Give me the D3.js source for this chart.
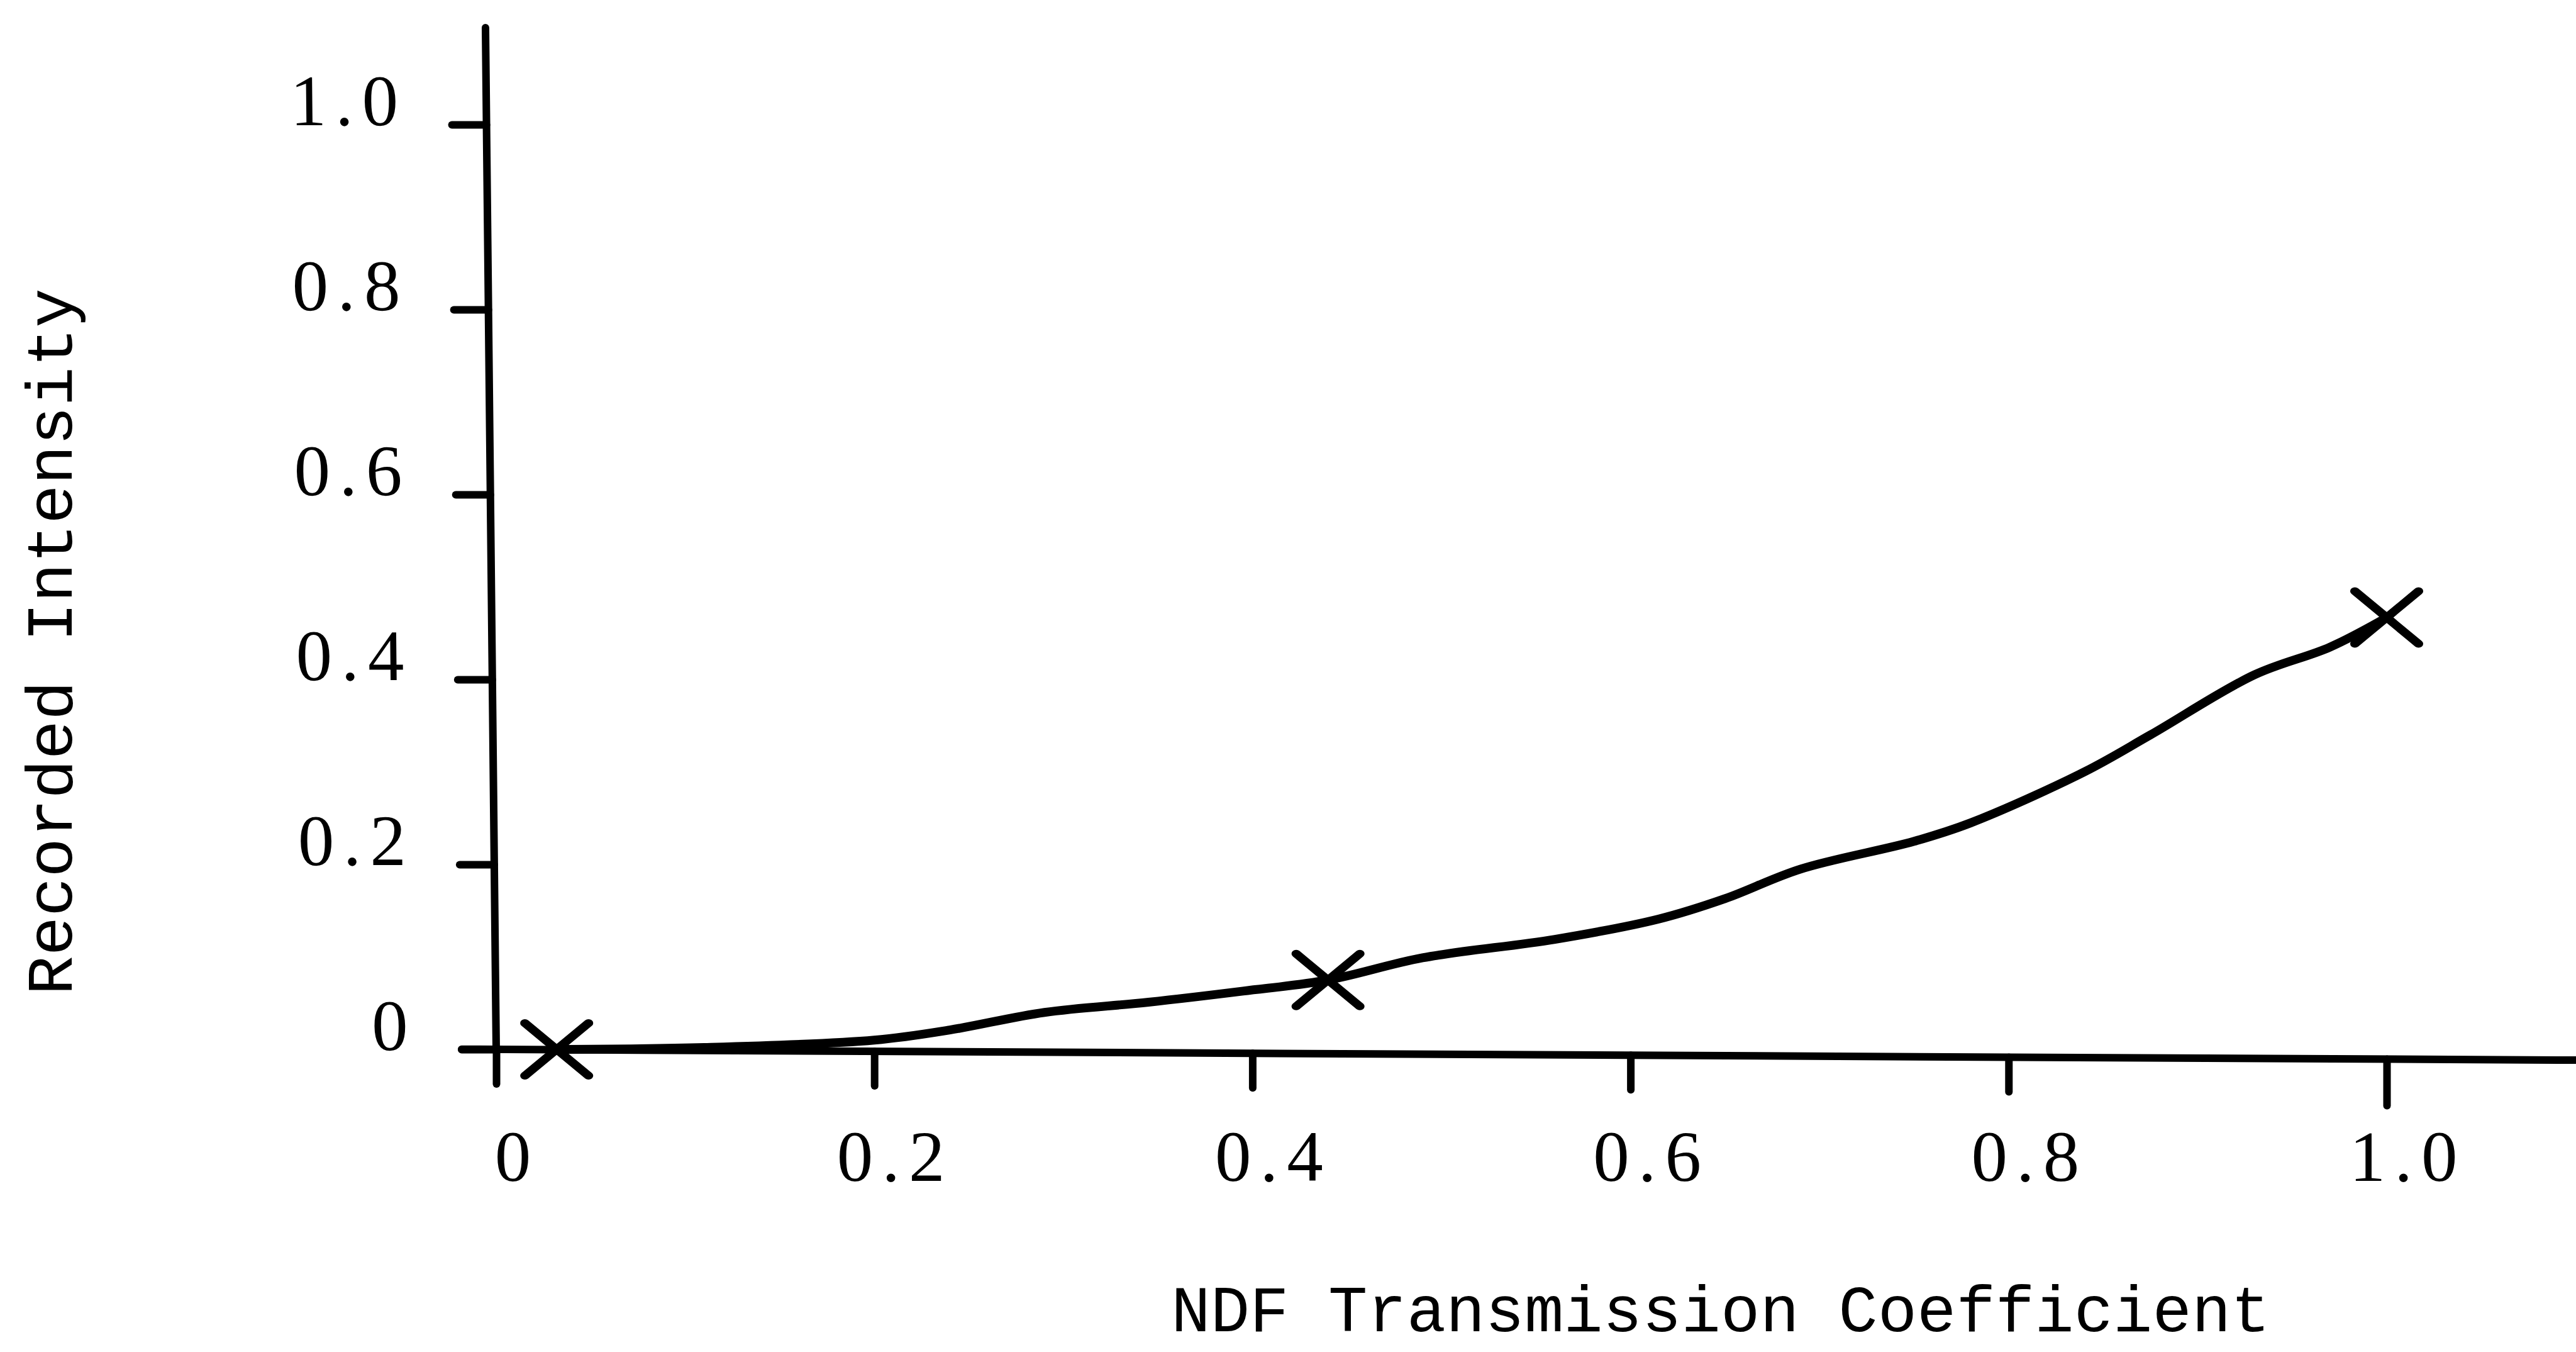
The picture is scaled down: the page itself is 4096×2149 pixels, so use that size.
<!DOCTYPE html>
<html>
<head>
<meta charset="utf-8">
<script src="https://cdn.jsdelivr.net/npm/d3@7"></script>
<style>
  body { margin: 0; background: #fff; }
  text { font-family: "Liberation Mono", "Courier New", monospace; fill: #000; }
  .tick text { font-family: "Liberation Serif", "Times New Roman", serif; }
</style>
</head>
<body>
<div id="chart"></div>
<script>

// data
var curveX = [0.032, 0.11, 0.2, 0.24, 0.29, 0.345, 0.395, 0.44, 0.49, 0.56, 0.615, 0.65, 0.69, 0.75, 0.78, 0.84, 0.875, 0.93, 0.97, 1.0];
var curveY = [0.0, 0.002, 0.01, 0.021, 0.040, 0.051, 0.063, 0.075, 0.099, 0.119, 0.141, 0.163, 0.195, 0.225, 0.245, 0.300, 0.340, 0.405, 0.435, 0.467];
var markerX = [0.032, 0.44, 1.0];
var markerY = [0.0, 0.075, 0.467];

var xTicks = [0, 0.2, 0.4, 0.6, 0.8, 1.0];
var xTickLabels = ["0", "0.2", "0.4", "0.6", "0.8", "1.0"];
var yTicks = [0, 0.2, 0.4, 0.6, 0.8, 1.0];
var yTickLabels = ["0", "0.2", "0.4", "0.6", "0.8", "1.0"];

var xTitle = "NDF Transmission Coefficient";
var yTitle = "Recorded Intensity";

var W = 4096, H = 2149;

var svg = d3.select("#chart").append("svg")
    .attr("width", W)
    .attr("height", H);

let x = d3.scaleLinear().domain([0, 1]).range([789, 3795]);
let y = d3.scaleLinear().domain([0, 1]).range([1668, 198]);

// the typed axes are not quite square, lean them a little
let yLean = 0.0105, xLean = 0.00516;
let yDeg = Math.atan(yLean) * 180 / Math.PI;
let xDeg = Math.atan(xLean) * 180 / Math.PI;

// y axis
let yAxisG = svg.append("g")
    .attr("transform", "translate(" + (x(0) - y(0) * yLean) + ",0) skewX(" + yDeg + ")")
    .call(d3.axisLeft(y)
        .tickValues(yTicks)
        .tickSize(55)
        .tickPadding(71)
        .tickFormat((d, i) => yTickLabels[i]));
yAxisG.select(".domain").remove();
yAxisG.selectAll(".tick line").attr("stroke", "#000").attr("stroke-width", 12).attr("stroke-linecap", "round");
yAxisG.selectAll(".tick text")
    .attr("dy", "0")
    .style("font-size", "115px")
    .style("letter-spacing", "14px");
yAxisG.append("line")
    .attr("x1", 0).attr("x2", 0)
    .attr("y1", 44).attr("y2", y(0))
    .attr("stroke", "#000").attr("stroke-width", 12).attr("stroke-linecap", "round");

// x axis line and ticks
let xAxisG = svg.append("g")
    .attr("transform", "translate(0," + (y(0) - x(0) * xLean) + ") skewY(" + xDeg + ")")
    .call(d3.axisBottom(x)
        .tickValues(xTicks)
        .tickSize(55)
        .tickFormat(""));
xAxisG.select(".domain").remove();
xAxisG.selectAll(".tick line")
    .attr("stroke", "#000").attr("stroke-width", 12).attr("stroke-linecap", "round")
    .attr("y2", d => d === 1 ? 74 : 55);
xAxisG.append("line")
    .attr("x1", x(0) - 55).attr("x2", W)
    .attr("y1", 0).attr("y2", 0)
    .attr("stroke", "#000").attr("stroke-width", 12).attr("stroke-linecap", "round");

// x tick labels stay level
let xLabG = svg.append("g")
    .attr("transform", "translate(0," + y(0) + ")")
    .call(d3.axisBottom(x)
        .tickValues(xTicks)
        .tickSize(0)
        .tickFormat((d, i) => xTickLabels[i]));
xLabG.select(".domain").remove();
xLabG.selectAll(".tick text")
    .attr("x", 33)
    .attr("y", 209)
    .attr("dy", "0")
    .style("font-size", "115px")
    .style("letter-spacing", "14px");

// axis titles
svg.append("text")
    .attr("x", 2736)
    .attr("y", 2116)
    .attr("text-anchor", "middle")
    .style("font-size", "104px")
    .text(xTitle);

svg.append("text")
    .attr("transform", "translate(114,1020) rotate(-90)")
    .attr("text-anchor", "middle")
    .style("font-size", "104px")
    .text(yTitle);

// curve
let pts = curveX.map((d, i) => [x(d), y(curveY[i])]);
let line = d3.line().curve(d3.curveCatmullRom.alpha(0.5));

svg.append("path")
    .attr("d", line(pts))
    .attr("fill", "none")
    .attr("stroke", "#000")
    .attr("stroke-width", 14)
    .attr("stroke-linecap", "round")
    .attr("stroke-linejoin", "round");

// x markers
let cross = d3.symbol().type(d3.symbolX).size(5056);
markerX.forEach((mx, i) =>
    svg.append("path")
    .attr("d", cross())
    .attr("transform", "translate(" + x(mx) + "," + y(markerY[i]) + ") scale(1.15,0.95)")
    .attr("fill", "none")
    .attr("stroke", "#000")
    .attr("stroke-width", 13)
    .attr("stroke-linecap", "round")
);

</script>
</body>
</html>
